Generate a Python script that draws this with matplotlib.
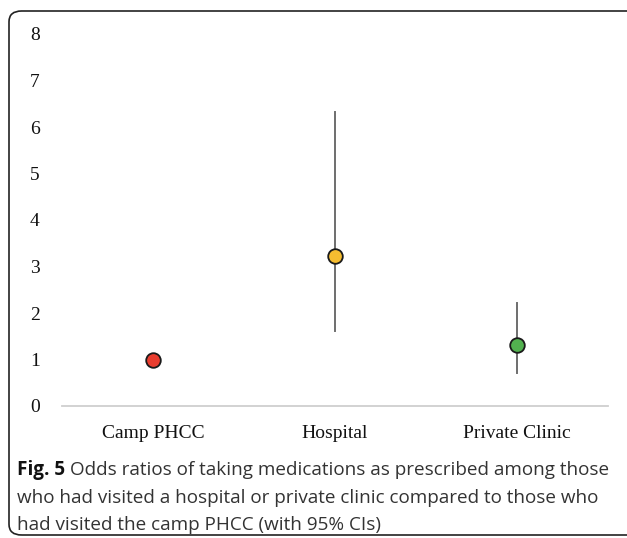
import matplotlib
matplotlib.use('Agg')
import matplotlib.pyplot as plt
from matplotlib.patches import FancyBboxPatch

# data
categories = ['Camp PHCC', 'Hospital', 'Private Clinic']
odds_ratio = [1.0, 3.22, 1.32]
ci_low = [1.0, 1.61, 0.71]
ci_high = [1.0, 6.32, 2.22]
colors = ['#E93D2F', '#F6BD30', '#52B14F']
yticks = [0, 1, 2, 3, 4, 5, 6, 7, 8]

W, H = 627, 538
fig = plt.figure(figsize=(W / 100, H / 100), dpi=100)

# axes placed in pixel terms
left, right, y0, y8 = 62, 608, 406, 34
ax = fig.add_axes([left / W, 1 - y0 / H, (right - left) / W, (y0 - y8) / H])

x = list(range(len(categories)))
for i in x:
    if ci_high[i] > ci_low[i]:
        ax.plot([i, i], [ci_low[i], ci_high[i]], color='#6e6e6e', lw=1.4, zorder=2)
    ax.plot(i, odds_ratio[i], 'o', ms=10.5, mfc=colors[i], mec='#1a1a1a', mew=1.3, zorder=3)

ax.set_xlim(-0.5, 2.5)
ax.set_ylim(0, 8)
ax.set_yticks(yticks)
ax.set_xticks(x)
ax.set_xticklabels(categories)
for s in ['top', 'right', 'left']:
    ax.spines[s].set_visible(False)
ax.spines['bottom'].set_color('#cfcfcf')
ax.spines['bottom'].set_linewidth(1.3)
ax.tick_params(length=0)
ax.tick_params(axis='y', pad=16)
ax.tick_params(axis='x', pad=14)
for lab in ax.get_xticklabels() + ax.get_yticklabels():
    lab.set_fontfamily('Liberation Serif')
    lab.set_fontsize(14)
    lab.set_color('#111111')

# rounded frame around the figure panel
frame = FancyBboxPatch((9 / W, 3 / H), (W + 20) / W, (H - 14) / H,
                       boxstyle='round,pad=0,rounding_size=0.02',
                       transform=fig.transFigure, fill=False,
                       edgecolor='#222222', lw=1.2, clip_on=False)
fig.patches.append(frame)

# caption
cap_font = 'Open Sans'
cap_size = 13.6
cap_color = '#333333'
lines_y = [470, 498, 525]
t = fig.text(17 / W, 1 - lines_y[0] / H, 'Fig. 5', fontfamily=cap_font, fontweight='bold',
             fontsize=cap_size, color='#111111', va='center')
fig.canvas.draw()
bb = t.get_window_extent()
fig.text((bb.x1 + 5) / W, 1 - lines_y[0] / H,
         'Odds ratios of taking medications as prescribed among those',
         fontfamily=cap_font, fontsize=cap_size, color=cap_color, va='center')
fig.text(17 / W, 1 - lines_y[1] / H,
         'who had visited a hospital or private clinic compared to those who',
         fontfamily=cap_font, fontsize=cap_size, color=cap_color, va='center')
fig.text(17 / W, 1 - lines_y[2] / H,
         'had visited the camp PHCC (with 95% CIs)',
         fontfamily=cap_font, fontsize=cap_size, color=cap_color, va='center')

fig.savefig('out.png', dpi=100)
